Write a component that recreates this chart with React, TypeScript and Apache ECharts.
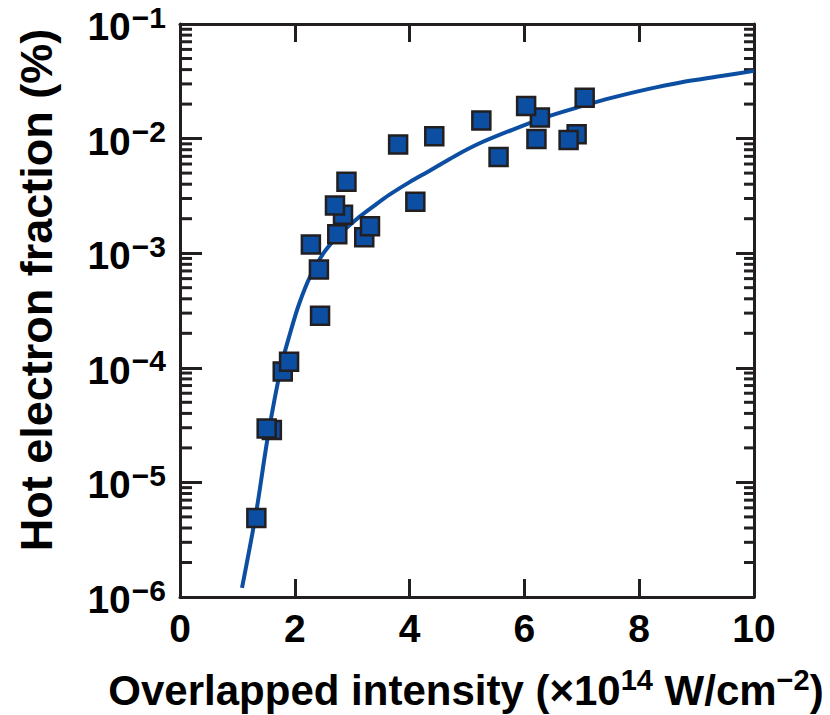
import React, { useEffect, useRef } from "react";
import * as echarts from "echarts";

// Measured points (overlapped intensity, 1e14 W/cm^2) vs hot electron fraction (%)
const intensity = [1.33, 1.60, 1.51, 1.79, 1.90, 2.28, 2.42, 2.44, 2.84, 2.70, 2.74, 2.90, 3.21, 3.31, 3.80, 4.10, 4.43, 5.25, 5.55, 6.27, 6.03, 6.21, 6.91, 6.77, 7.05];
const fraction = [4.9e-6, 2.86e-5, 2.95e-5, 9.3e-5, 1.13e-4, 1.19e-3, 7.2e-4, 2.84e-4, 2.17e-3, 2.61e-3, 1.46e-3, 4.21e-3, 1.38e-3, 1.72e-3, 8.9e-3, 2.81e-3, 1.05e-2, 1.44e-2, 6.9e-3, 1.53e-2, 1.93e-2, 9.9e-3, 1.09e-2, 9.7e-3, 2.27e-2];

// Fitted curve
const fitX = [1.08, 1.33, 1.53, 1.77, 1.93, 2.07, 2.27, 2.50, 2.75, 3.06, 3.40, 3.65, 4.00, 4.35, 4.80, 5.22, 5.80, 6.39, 6.97, 7.55, 8.13, 8.72, 9.40, 10.0];
const fitY = [1.2e-6, 5.6e-6, 2.5e-5, 1.07e-4, 2.1e-4, 3.55e-4, 6.3e-4, 1.0e-3, 1.41e-3, 1.95e-3, 2.63e-3, 3.24e-3, 4.17e-3, 5.25e-3, 7.1e-3, 9.1e-3, 1.2e-2, 1.55e-2, 1.9e-2, 2.29e-2, 2.69e-2, 3.09e-2, 3.5e-2, 3.9e-2];

// Axis settings
const xTicks = [0, 2, 4, 6, 8, 10];
const yDecades = [-6, -5, -4, -3, -2, -1];
const minorMultipliers = [2, 3, 4, 5, 6, 7, 8, 9];

const FONT = '"Liberation Sans", Arial, Helvetica, sans-serif';
const AXIS_COLOR = "#231f20";
const BLUE = "#0b4ea2";

export default function App() {
  const ref = useRef<HTMLDivElement>(null);

  useEffect(() => {
    if (!ref.current) return;
    const chart = echarts.init(ref.current, null, { renderer: "svg" });

    const scatterData = intensity.map((x, i) => [x, fraction[i]]);
    const fitData = fitX.map((x, i) => [x, fitY[i]]);
    const minorData: number[][] = [];
    for (let k = 0; k < yDecades.length - 1; k++) {
      for (const m of minorMultipliers) {
        minorData.push([xTicks[0], m * Math.pow(10, yDecades[k])]);
      }
    }
    const xMin = xTicks[0];
    const xMax = xTicks[xTicks.length - 1];

    const yLabelRich = {
      b: { fontSize: 39, fontWeight: "bold", fontFamily: FONT, color: "#000", lineHeight: 44, verticalAlign: "bottom" },
      s: { fontSize: 30, fontWeight: "bold", fontFamily: FONT, color: "#000", lineHeight: 30, verticalAlign: "top", padding: [0, 0, 0, 1] },
    };

    const option: any = {
      animation: false,
      grid: { left: 180, right: 76, top: 24, bottom: 118, containLabel: false, outerBoundsMode: "none" },
      xAxis: [
        {
          type: "value",
          min: xMin,
          max: xMax,
          interval: 2,
          position: "bottom",
          axisLine: { show: true, lineStyle: { color: AXIS_COLOR, width: 3 } },
          axisTick: { show: true, inside: true, length: 18, lineStyle: { color: AXIS_COLOR, width: 3 } },
          axisLabel: { show: true, margin: 12, fontSize: 39, fontWeight: "bold", fontFamily: FONT, color: "#000" },
          splitLine: { show: false },
        },
        {
          type: "value",
          min: xMin,
          max: xMax,
          interval: 2,
          position: "top",
          axisLine: { show: true, onZero: false, lineStyle: { color: AXIS_COLOR, width: 3 } },
          axisTick: { show: true, inside: true, length: 18, lineStyle: { color: AXIS_COLOR, width: 3 } },
          axisLabel: { show: false },
          splitLine: { show: false },
        },
      ],
      yAxis: [
        {
          type: "log",
          logBase: 10,
          min: 1e-6,
          max: 1e-1,
          position: "left",
          axisLine: { show: true, onZero: false, lineStyle: { color: AXIS_COLOR, width: 3 } },
          axisTick: { show: true, inside: true, length: 22, lineStyle: { color: AXIS_COLOR, width: 3 } },
          axisLabel: {
            show: true,
            margin: 14,
            formatter: (v: number) => {
              const e = Math.round(Math.log10(v));
              return "{b|10}{s|\u2212" + Math.abs(e) + "}";
            },
            rich: yLabelRich,
          },
          splitLine: { show: false },
        },
        {
          type: "log",
          logBase: 10,
          min: 1e-6,
          max: 1e-1,
          position: "right",
          axisLine: { show: true, onZero: false, lineStyle: { color: AXIS_COLOR, width: 3 } },
          axisTick: { show: true, inside: true, length: 18, lineStyle: { color: AXIS_COLOR, width: 3 } },
          axisLabel: { show: false },
          splitLine: { show: false },
        },
      ],
      graphic: [
        {
          type: "text",
          x: 466,
          y: 688,
          style: {
            text: "{a|Overlapped intensity (\u00d710}{s|14}{a| W/cm}{s|\u22122}{a|)}",
            align: "center",
            verticalAlign: "middle",
            textAlign: "center",
            textVerticalAlign: "middle",
            rich: {
              a: { fontSize: 42, fontWeight: "bold", fontFamily: FONT, fill: "#000", lineHeight: 46, verticalAlign: "bottom" },
              s: { fontSize: 29, fontWeight: "bold", fontFamily: FONT, fill: "#000", lineHeight: 29, verticalAlign: "top" },
            },
          },
        },
        {
          type: "text",
          x: 36,
          y: 290,
          rotation: Math.PI / 2,
          style: {
            text: "Hot electron fraction (%)",
            fontSize: 45,
            fontWeight: "bold",
            fontFamily: FONT,
            fill: "#000",
            align: "center",
            verticalAlign: "middle",
            textAlign: "center",
            textVerticalAlign: "middle",
          },
        },
      ],
      series: [
        {
          type: "custom",
          xAxisIndex: 0,
          yAxisIndex: 0,
          silent: true,
          z: 1,
          data: minorData,
          renderItem: (params: any, api: any) => {
            const v = api.value(1);
            const pl = api.coord([xMin, v]);
            const pr = api.coord([xMax, v]);
            return {
              type: "group",
              children: [
                { type: "line", shape: { x1: pl[0], y1: pl[1], x2: pl[0] + 12, y2: pl[1] }, style: { stroke: AXIS_COLOR, lineWidth: 3 } },
                { type: "line", shape: { x1: pr[0], y1: pr[1], x2: pr[0] - 10, y2: pr[1] }, style: { stroke: AXIS_COLOR, lineWidth: 3 } },
              ],
            };
          },
        },
        {
          type: "line",
          xAxisIndex: 0,
          yAxisIndex: 0,
          data: fitData,
          showSymbol: false,
          smooth: 0.3,
          z: 2,
          lineStyle: { color: BLUE, width: 4 },
        },
        {
          type: "scatter",
          xAxisIndex: 0,
          yAxisIndex: 0,
          data: scatterData,
          symbol: "rect",
          symbolSize: 18,
          z: 3,
          itemStyle: { color: BLUE, borderColor: AXIS_COLOR, borderWidth: 2.5, opacity: 1 },
        },
      ],
    };

    chart.setOption(option);
    return () => chart.dispose();
  }, []);

  return <div ref={ref} style={{ position: "fixed", left: 0, top: 0, width: 830, height: 715, background: "#fff" }} />;
}
